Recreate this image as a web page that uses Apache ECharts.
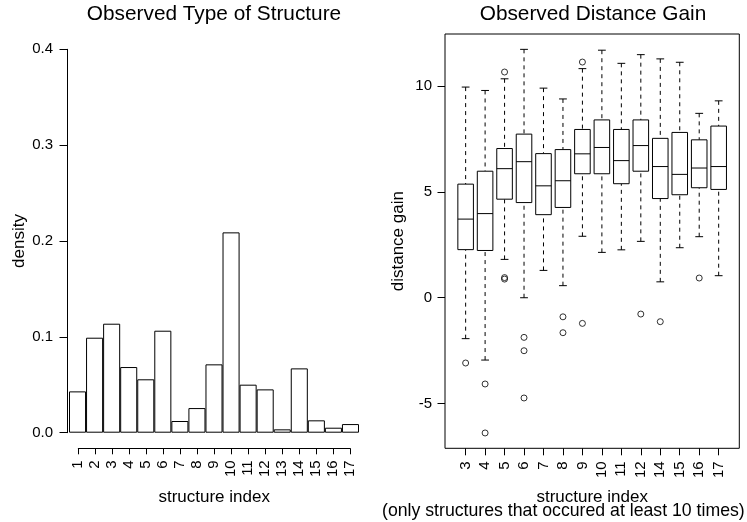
<!DOCTYPE html>
<html>
<head>
<meta charset="utf-8">
<script src="https://cdn.jsdelivr.net/npm/echarts@6/dist/echarts.min.js"></script>
<style>
  html, body { margin: 0; padding: 0; background: #fff; }
  #chart { width: 747px; height: 522px; }
</style>
</head>
<body>
<div id="chart"></div>
<script>
// Left panel: relative frequency of each structure type
const structureIds = ['1', '2', '3', '4', '5', '6', '7', '8', '9', '10', '11', '12', '13', '14', '15', '16', '17'];
const densities = [0.0431, 0.0991, 0.1137, 0.0685, 0.0557, 0.1064, 0.0122, 0.0257, 0.0713,
                   0.2090, 0.0501, 0.0452, 0.0035, 0.0671, 0.0129, 0.0052, 0.0090];

// Right panel: distance gain per structure (structures seen at least 10 times)
const gainIds     = ['3', '4', '5', '6', '7', '8', '9', '10', '11', '12', '14', '15', '16', '17'];
const whiskerLow  = [-1.93, -2.94, 1.81, 0.00, 1.29, 0.57, 2.90, 2.14, 2.26, 2.66, 0.75, 2.36, 2.88, 1.04];
const quartile1   = [2.27, 2.23, 4.65, 4.49, 3.92, 4.26, 5.85, 5.85, 5.38, 5.97, 4.68, 4.86, 5.19, 5.11];
const medians     = [3.71, 3.97, 6.09, 6.42, 5.28, 5.52, 6.79, 7.09, 6.47, 7.18, 6.19, 5.82, 6.12, 6.19];
const quartile3   = [5.36, 5.97, 7.04, 7.72, 6.80, 6.99, 7.94, 8.39, 7.94, 8.39, 7.52, 7.80, 7.45, 8.10];
const whiskerHigh = [9.94, 9.78, 10.33, 11.72, 9.89, 9.38, 10.81, 11.68, 11.06, 11.47, 11.27, 11.11, 8.70, 9.29];
const outliers = [
  [-3.08], [-4.07, -6.38], [10.65, 0.95, 0.88], [-1.87, -2.50, -4.73], [], [-0.90, -1.65],
  [11.12, -1.21], [], [], [-0.77], [-1.13], [], [0.93], []
];
const gainTicks = [-5, 0, 5, 10];

const FONT = 'Liberation Sans, Arial, Helvetica, sans-serif';
const INK = '#000';

// box positions 1..n on a numeric axis, padded like a base-graphics plot window
const boxPos = gainIds.map((_, i) => i + 1);
const nBox = gainIds.length;
const xPad = nBox * 0.04;
const allGain = whiskerLow.concat(whiskerHigh, outliers.flat());
const gMin = Math.min(...allGain), gMax = Math.max(...allGain);
const yPad = (gMax - gMin) * 0.04;

const boxData = boxPos.map((p, i) => [p, whiskerLow[i], quartile1[i], medians[i], quartile3[i], whiskerHigh[i]]);
const outlierData = [];
outliers.forEach((vals, i) => vals.forEach(v => outlierData.push([boxPos[i], v])));

function renderBox(params, api) {
  const x = api.value(0);
  const lo = api.coord([x, api.value(1)]);
  const q1 = api.coord([x, api.value(2)]);
  const md = api.coord([x, api.value(3)]);
  const q3 = api.coord([x, api.value(4)]);
  const hi = api.coord([x, api.value(5)]);
  const half = api.size([0.8, 0])[0] / 2;
  const cap = half / 2;
  const cx = lo[0];
  const solid = { stroke: INK, lineWidth: 1 };
  const dashed = { stroke: INK, lineWidth: 1, lineDash: [4, 4] };
  return {
    type: 'group',
    children: [
      { type: 'line', shape: { x1: cx, y1: hi[1], x2: cx, y2: q3[1] }, style: dashed },
      { type: 'line', shape: { x1: cx, y1: lo[1], x2: cx, y2: q1[1] }, style: dashed },
      { type: 'line', shape: { x1: cx - cap, y1: hi[1], x2: cx + cap, y2: hi[1] }, style: solid },
      { type: 'line', shape: { x1: cx - cap, y1: lo[1], x2: cx + cap, y2: lo[1] }, style: solid },
      { type: 'rect', shape: { x: cx - half, y: q3[1], width: half * 2, height: q1[1] - q3[1] },
        style: { fill: '#fff', stroke: INK, lineWidth: 1 } },
      { type: 'line', shape: { x1: cx - half, y1: md[1], x2: cx + half, y2: md[1] }, style: solid }
    ]
  };
}

const tickLabel = { color: INK, fontFamily: FONT, fontSize: 15 };
const nameStyle = { color: INK, fontFamily: FONT, fontSize: 17 };
const titleStyle = { fontFamily: FONT, fontSize: 20.8, fontWeight: 'normal', color: INK, lineHeight: 21 };

const chart = echarts.init(document.getElementById('chart'), null, { renderer: 'canvas' });
chart.setOption({
  animation: false,
  backgroundColor: '#fff',
  textStyle: { fontFamily: FONT, color: INK },
  title: [
    { text: 'Observed Type of Structure', left: 214, top: 3.5, textAlign: 'center', padding: 0, textStyle: titleStyle },
    { text: 'Observed Distance Gain', left: 593, top: 3.5, textAlign: 'center', padding: 0, textStyle: titleStyle },
    { text: '(only structures that occured at least 10 times)', left: 382, top: 502, padding: 0,
      textStyle: { fontFamily: FONT, fontSize: 17.7, fontWeight: 'normal', color: INK, lineHeight: 17.7 } }
  ],
  grid: [
    { left: 69, top: 49.3, width: 290, height: 383.4, outerBoundsMode: 'none', containLabel: false },
    { left: 78.3, top: 440, width: 271.7, height: 8.3, outerBoundsMode: 'none', containLabel: false },
    { left: 445, top: 34, width: 294.3, height: 414.3, show: true, borderColor: INK, borderWidth: 1,
      backgroundColor: 'transparent', outerBoundsMode: 'none', containLabel: false }
  ],
  xAxis: [
    { gridIndex: 0, type: 'category', data: structureIds, show: false },
    { gridIndex: 1, type: 'value', min: 1, max: 17, interval: 1,
      axisLine: { show: true, onZero: false, lineStyle: { color: INK, width: 1 } },
      axisTick: { show: true, length: 6, lineStyle: { color: INK, width: 1 } },
      axisLabel: Object.assign({ rotate: 90, margin: 12, formatter: v => structureIds[v - 1] }, tickLabel),
      splitLine: { show: false },
      name: 'structure index', nameLocation: 'middle', nameGap: 41, nameTextStyle: nameStyle },
    { gridIndex: 2, type: 'value', min: 0.5 - xPad, max: nBox + 0.5 + xPad,
      axisLine: { show: false, onZero: false },
      axisTick: { show: true, customValues: boxPos, length: 7, lineStyle: { color: INK, width: 1 } },
      axisLabel: Object.assign({ customValues: boxPos, rotate: 90, margin: 13,
        formatter: v => gainIds[Math.round(v) - 1] }, tickLabel),
      splitLine: { show: false },
      name: 'structure index', nameLocation: 'middle', nameGap: 41, nameTextStyle: nameStyle }
  ],
  yAxis: [
    { gridIndex: 0, type: 'value', min: 0, max: 0.4, interval: 0.1, offset: 2,
      axisLine: { show: true, lineStyle: { color: INK, width: 1 } },
      axisTick: { show: true, length: 7.5, lineStyle: { color: INK, width: 1 } },
      axisLabel: Object.assign({ margin: 14, formatter: v => v.toFixed(1) }, tickLabel),
      splitLine: { show: false },
      name: 'density', nameLocation: 'middle', nameGap: 39, nameTextStyle: nameStyle },
    { gridIndex: 1, type: 'value', show: false },
    { gridIndex: 2, type: 'value', min: gMin - yPad, max: gMax + yPad,
      axisLine: { show: false, onZero: false },
      axisTick: { show: true, customValues: gainTicks, length: 7.5, lineStyle: { color: INK, width: 1 } },
      axisLabel: Object.assign({ customValues: gainTicks, margin: 13 }, tickLabel),
      splitLine: { show: false },
      name: 'distance gain', nameLocation: 'middle', nameGap: 38, nameTextStyle: nameStyle }
  ],
  series: [
    { type: 'bar', xAxisIndex: 0, yAxisIndex: 0, data: densities, barCategoryGap: '0%',
      itemStyle: { color: '#fff', borderColor: INK, borderWidth: 1 }, silent: true },
    { type: 'custom', xAxisIndex: 2, yAxisIndex: 2, data: boxData, renderItem: renderBox,
      encode: { x: 0, y: [1, 2, 3, 4, 5] }, silent: true },
    { type: 'scatter', xAxisIndex: 2, yAxisIndex: 2, data: outlierData, symbol: 'circle', symbolSize: 6,
      itemStyle: { color: 'rgba(0,0,0,0)', borderColor: INK, borderWidth: 1 }, silent: true }
  ]
});
</script>
</body>
</html>
